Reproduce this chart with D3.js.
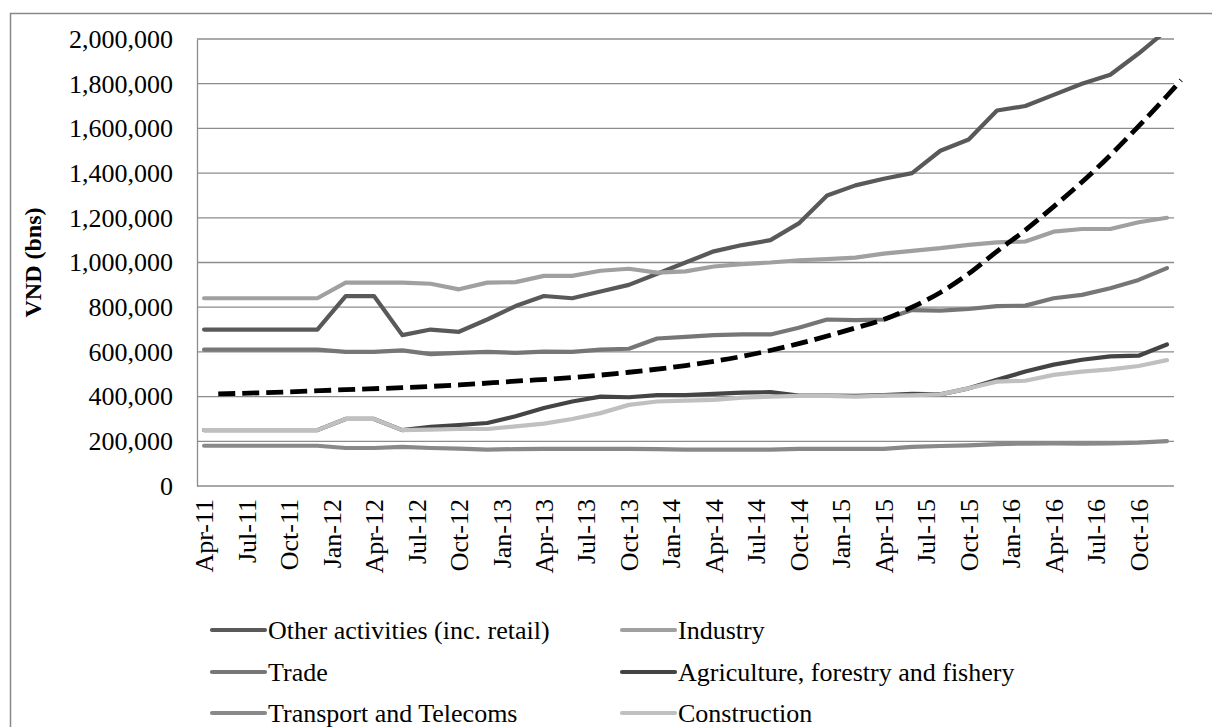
<!DOCTYPE html>
<html><head><meta charset="utf-8">
<script src="https://cdn.jsdelivr.net/npm/d3@7"></script>
<style>html,body{margin:0;padding:0;background:#fff;}svg{display:block;}
svg text{font-family:"Liberation Serif","Times New Roman",serif;}</style>
</head><body>
<svg id="chart" width="1212" height="727"></svg>
<script>
// ---- data ----
const dates = ["Apr-11","Jun-11","Aug-11","Oct-11","Dec-11","Feb-12","Apr-12","Jun-12","Aug-12","Oct-12","Dec-12",
  "Feb-13","Apr-13","Jun-13","Aug-13","Oct-13","Dec-13","Feb-14","Apr-14","Jun-14","Aug-14","Oct-14","Dec-14",
  "Feb-15","Apr-15","Jun-15","Aug-15","Oct-15","Dec-15","Feb-16","Apr-16","Jun-16","Aug-16","Oct-16","Dec-16"];
const tickLabels = ["Apr-11","Jul-11","Oct-11","Jan-12","Apr-12","Jul-12","Oct-12","Jan-13","Apr-13","Jul-13","Oct-13",
  "Jan-14","Apr-14","Jul-14","Oct-14","Jan-15","Apr-15","Jul-15","Oct-15","Jan-16","Apr-16","Jul-16","Oct-16"];
const yTicks = [0,200000,400000,600000,800000,1000000,1200000,1400000,1600000,1800000,2000000];
const seriesNames = ["Other activities (inc. retail)","Industry","Trade","Agriculture, forestry and fishery","Transport and Telecoms","Construction"];
const otherActivities = [700000,700000,700000,700000,700000,850000,850000,675000,700000,690000,745000,805000,850000,840000,870000,900000,950000,1000000,1050000,1078000,1100000,1175000,1300000,1345000,1375000,1400000,1500000,1550000,1680000,1700000,1750000,1800000,1840000,1935000,2040000];
const industry = [840000,840000,840000,840000,840000,910000,910000,910000,905000,880000,910000,912000,940000,940000,963000,972000,955000,960000,982000,993000,1000000,1010000,1015000,1022000,1040000,1052000,1064000,1079000,1090000,1094000,1138000,1150000,1150000,1180000,1200000];
const trade = [610000,610000,610000,610000,610000,600000,600000,607000,590000,596000,600000,596000,601000,600000,610000,614000,660000,667000,675000,678000,678000,708000,745000,742000,745000,787000,785000,792000,805000,807000,840000,855000,885000,922000,975000];
const agriculture = [250000,250000,250000,250000,250000,300000,300000,250000,265000,273000,282000,312000,349000,378000,400000,397000,407000,407000,412000,418000,420000,404000,404000,403000,407000,412000,410000,437000,475000,512000,543000,565000,580000,583000,633000];
const transport = [180000,180000,180000,180000,180000,170000,170000,175000,170000,167000,163000,165000,166000,166000,166000,166000,165000,163000,163000,163000,163000,166000,166000,166000,166000,175000,179000,182000,187000,190000,191000,190000,191000,194000,201000];
const construction = [250000,250000,250000,250000,250000,300000,300000,250000,252000,255000,255000,267000,279000,300000,326000,363000,378000,382000,385000,395000,400000,403000,403000,400000,404000,406000,410000,437000,467000,471000,497000,512000,522000,537000,563000];
const trendDates = ["May-11","Oct-11","Feb-12","Jun-12","Oct-12","Feb-13","Jun-13","Oct-13","Feb-14","Jun-14","Oct-14","Feb-15","Apr-15","Jun-15","Aug-15","Oct-15","Dec-15","Feb-16","Apr-16","Jun-16","Aug-16","Oct-16","Dec-16","Jan-17"];
const trendValues = [412000,421000,431000,440000,452000,469000,485000,509000,539000,580000,637000,707000,745000,800000,866000,950000,1050000,1145000,1250000,1360000,1480000,1610000,1745000,1816000];
const seriesColors = ["#595959","#a0a0a0","#767676","#444444","#898989","#c0c0c0"];

// ---- layout ----
const svg = d3.select("#chart");
const FONT = "Liberation Serif, Times New Roman, serif";
const L = 197, R = 1174, T = 39, B = 486;
const parse = d3.timeParse("%b-%y");
const start = parse("Apr-11");
const mi = s => d3.timeMonth.count(start, parse(s));
const x = d3.scaleLinear().domain([-0.5, 68.5]).range([L, R]);
const y = d3.scaleLinear().domain([0, 2000000]).range([B, T]);

// outer border
svg.append("rect").attr("x",10.5).attr("y",13.5).attr("width",1220).attr("height",740)
  .attr("fill","none").attr("stroke","#888").attr("stroke-width",1.5);

// gridlines
svg.append("g").selectAll("line").data(yTicks.filter(d=>d>0)).join("line")
  .attr("x1",L).attr("x2",R).attr("y1",d=>y(d)).attr("y2",d=>y(d))
  .attr("stroke","#8c8c8c").attr("stroke-width",1.3);

// y axis
const yAxis = svg.append("g").attr("transform",`translate(${L},0)`)
  .call(d3.axisLeft(y).tickValues(yTicks).tickSize(0).tickPadding(24).tickFormat(d3.format(",")));
yAxis.attr("font-family",FONT);
yAxis.select(".domain").attr("stroke","#8c8c8c").attr("stroke-width",1.3);
yAxis.selectAll("text").style("font-family",FONT).attr("font-size",26).attr("fill","#000");

// x axis
const xAxis = svg.append("g").attr("transform",`translate(0,${B})`)
  .call(d3.axisBottom(x).tickValues(tickLabels.map(mi)).tickSize(0).tickFormat((d,i)=>tickLabels[i]));
xAxis.attr("font-family",FONT);
xAxis.select(".domain").attr("d",`M${L},0H${R}`).attr("stroke","#8c8c8c").attr("stroke-width",1.3);
xAxis.selectAll("text").style("font-family",FONT).attr("font-size",26).attr("fill","#000")
  .attr("transform","rotate(-90)").attr("text-anchor","end").attr("dy","0.33em").attr("x",-13).attr("y",0);

// y title
svg.append("text").attr("transform",`translate(41,${(T+B)/2}) rotate(-90)`)
  .attr("text-anchor","middle").style("font-family",FONT).attr("font-size",24).attr("font-weight","bold")
  .text("VND (bns)");

// clip
svg.append("clipPath").attr("id","plotclip").append("rect").attr("x",L).attr("y",T-2).attr("width",R-L+20).attr("height",B-T+4);

const allSeries = [otherActivities, industry, trade, agriculture, transport, construction];
const line = d3.line().x((d,i)=>x(mi(dates[i]))).y(d=>y(d));
const gLines = svg.append("g").attr("clip-path","url(#plotclip)");
allSeries.forEach((s,k)=>{
  gLines.append("path").datum(s).attr("d",line).attr("fill","none")
    .attr("stroke",seriesColors[k]).attr("stroke-width",4.2).attr("stroke-linejoin","round").attr("stroke-linecap","round");
});
const trendLine = d3.line().curve(d3.curveMonotoneX).x((d,i)=>x(mi(trendDates[i]))).y(d=>y(d));
svg.append("path").datum(trendValues).attr("d",trendLine).attr("fill","none")
  .attr("stroke","#000").attr("stroke-width",4.8).attr("stroke-dasharray","17,7");

// legend
const legendPos = [[212,630],[622,630],[212,672],[622,672],[212,713],[622,713]];
seriesNames.forEach((n,k)=>{
  const [lx,ly] = legendPos[k];
  svg.append("line").attr("x1",lx).attr("x2",lx+53).attr("y1",ly).attr("y2",ly)
    .attr("stroke",seriesColors[k]).attr("stroke-width",4.2).attr("stroke-linecap","round");
  svg.append("text").attr("x",lx+56).attr("y",ly).attr("dy","0.33em")
    .style("font-family",FONT).attr("font-size",26).attr("fill","#000").text(n);
});
</script>
</body></html>
